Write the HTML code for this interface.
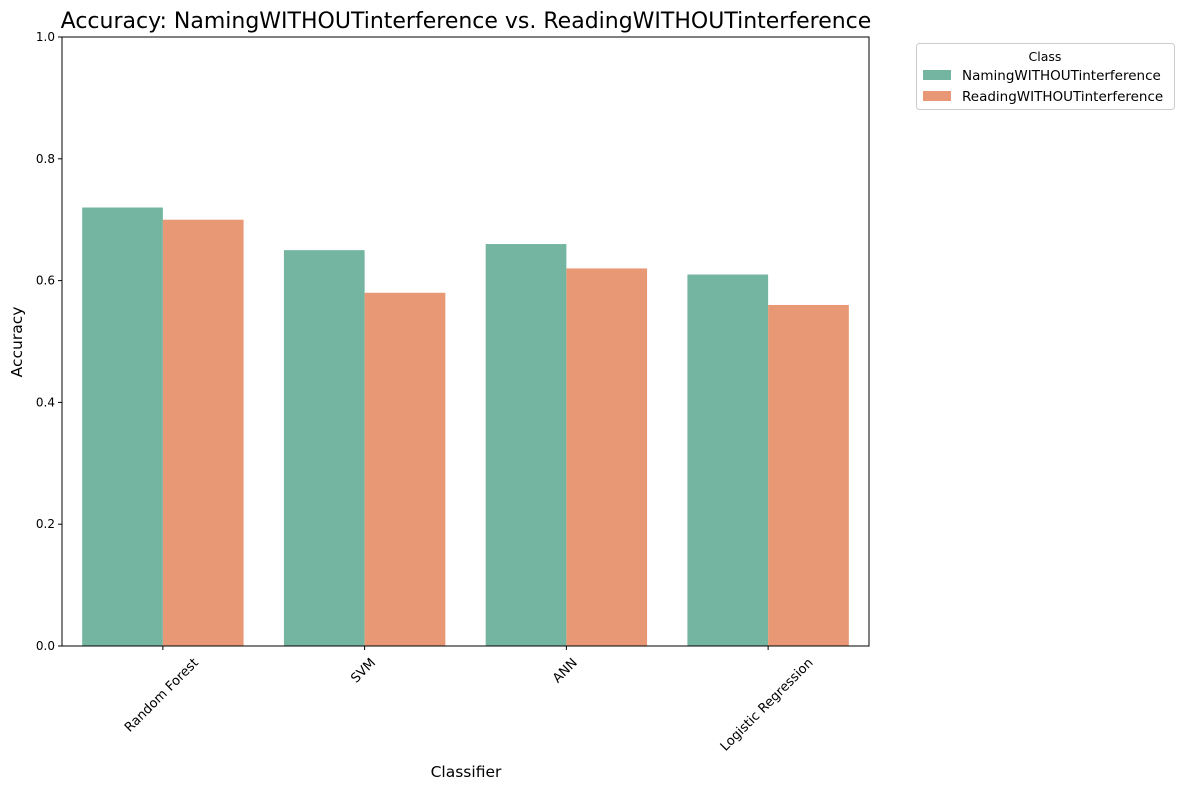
<!DOCTYPE html>
<html><head><meta charset="utf-8"><style>
body{margin:0;background:#fff;font-family:"Liberation Sans","DejaVu Sans",sans-serif}
svg text{font-family:"DejaVu Sans","Liberation Sans",sans-serif}
</style></head><body>
<svg id="chart" width="1183" height="790"></svg>
<script>
const categories=["Random Forest","SVM","ANN","Logistic Regression"];
const namingValues=[0.72,0.65,0.66,0.61];
const readingValues=[0.70,0.58,0.62,0.56];
const yTicks=[0,0.2,0.4,0.6,0.8,1.0];
const seriesNames=["NamingWITHOUTinterference","ReadingWITHOUTinterference"];
const colors=["#73b5a0","#e89874"];
const NS="http://www.w3.org/2000/svg";
const svg=document.getElementById('chart');
const L=62,R=869,T=37,B=646;
const y=v=>B-(B-T)*v;
const band=(R-L)/categories.length;
function mk(tag,attrs,parent){const e=document.createElementNS(NS,tag);for(const k in attrs)e.setAttribute(k,attrs[k]);(parent||svg).appendChild(e);return e;}
const title=mk('text',{x:466,y:28,'text-anchor':'middle','font-size':22,fill:'#000'});
title.textContent="Accuracy: NamingWITHOUTinterference vs. ReadingWITHOUTinterference";


[namingValues,readingValues].forEach((vals,s)=>{
 vals.forEach((v,i)=>{
  const bw=band*0.4;
  const x0=L+band*i+band*0.1+s*bw;
  const r=mk('rect',{x:x0,y:y(v),width:bw,height:B-y(v),fill:colors[s]});
  
  
 });
});
const frame=mk('rect',{x:L,y:T,width:R-L,height:B-T,fill:'none',stroke:'#000','stroke-width':1});


yTicks.forEach(t=>{
 mk('line',{x1:L-4,x2:L,y1:y(t),y2:y(t),stroke:'#000'});
 const tx=mk('text',{x:L-7,y:y(t)+4,'text-anchor':'end','font-size':12});
 tx.textContent=t.toFixed(1);
 
 
});
categories.forEach((c,i)=>{
 const cx=L+band*(i+0.5);
 mk('line',{x1:cx,x2:cx,y1:B,y2:B+4,stroke:'#000'});
 const tx=mk('text',{x:0,y:0,'text-anchor':'middle','font-size':13,'dominant-baseline':'central'});
 tx.textContent=c;
 
 
 const len=tx.getComputedTextLength();
 const cy=B+10+(len+14)*0.7071/2;
 tx.setAttribute('transform',`translate(${cx-1} ${cy}) rotate(-45)`);
});
const xl=mk('text',{x:466,y:777,'text-anchor':'middle','font-size':15.5});
xl.textContent="Classifier";


const yl=mk('text',{x:22,y:342,'text-anchor':'middle','font-size':15.5,transform:'rotate(-90 22 342)'});
yl.textContent="Accuracy";


const lg=mk('g',{});


mk('rect',{x:916.5,y:43.5,width:258,height:66,rx:3,fill:'#fff',stroke:'#ccc'},lg);
const lt=mk('text',{x:1045,y:61,'text-anchor':'middle','font-size':12.5},lg);
lt.textContent="Class";
seriesNames.forEach((n,i)=>{
 const yy=70+i*21;
 const sw=mk('rect',{x:923,y:yy,width:28,height:10,fill:colors[i]},lg);
 
 
 const t=mk('text',{x:962,y:yy+10,'font-size':13.5},lg);
 t.textContent=n;
 
 
});
</script>
</body></html>
